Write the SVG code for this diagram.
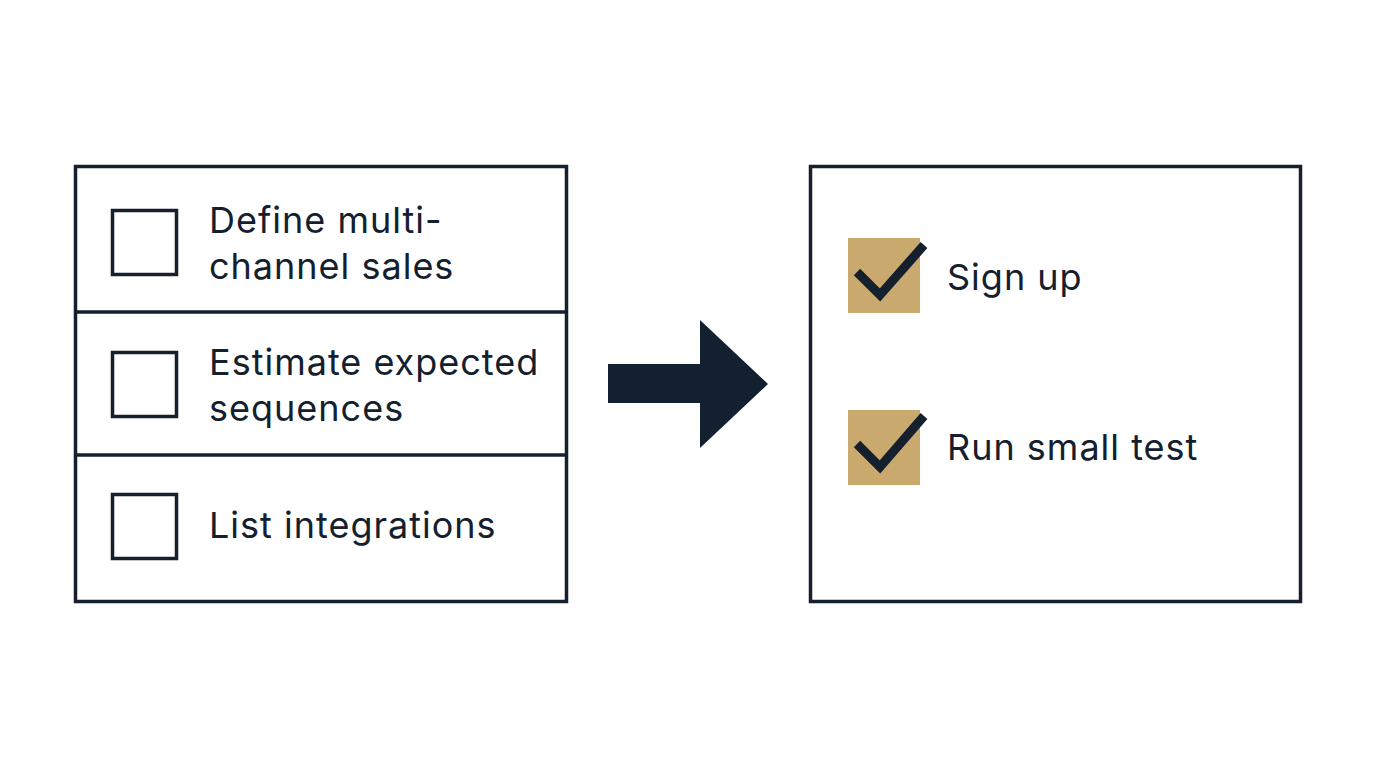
<svg xmlns="http://www.w3.org/2000/svg" width="1376" height="768" viewBox="0 0 1376 768">
<style>
.box{fill:#ffffff;stroke:#14202e;stroke-width:3.5}
.cb{fill:none;stroke:#14202e;stroke-width:3.5}
.cbd{fill:#c9a96e}
.tick{fill:none;stroke:#14202e;stroke-width:9;stroke-linecap:butt;stroke-linejoin:miter}
.t{font-family:Inter,"Noto Sans","Liberation Sans",sans-serif;font-size:36px;letter-spacing:1px;fill:#14202e}
</style>
<rect width="1376" height="768" fill="#ffffff"/>
<g id="todo-list">
<rect class="box" x="75.5" y="166.5" width="491" height="435"/>
<line class="cb" x1="75" y1="312" x2="566" y2="312"/>
<line class="cb" x1="75" y1="455" x2="566" y2="455"/>
</g>
<g id="item-define">
<rect class="cb" x="112.5" y="210.5" width="64" height="64"/>
<text class="t" x="209" y="233">Define multi-</text>
<text class="t" x="209" y="279">channel sales</text>
</g>
<g id="item-estimate">
<rect class="cb" x="112.5" y="352.5" width="64" height="64"/>
<text class="t" x="209" y="375">Estimate expected</text>
<text class="t" x="209" y="421">sequences</text>
</g>
<g id="item-list">
<rect class="cb" x="112.5" y="494.5" width="64" height="64"/>
<text class="t" x="209" y="538">List integrations</text>
</g>
<g id="connectors">
<polygon fill="#13202f" points="608,364 700,364 700,320 768,384 700,448 700,403 608,403"/>
</g>
<g id="done-list">
<rect class="box" x="810.5" y="166.5" width="490" height="435"/>
</g>
<g id="item-signup">
<rect class="cbd" x="848" y="238" width="72" height="75"/>
<polyline class="tick" points="857,272 880,295 924,245"/>
<text class="t" x="947" y="290">Sign up</text>
</g>
<g id="item-test">
<rect class="cbd" x="848" y="410" width="72" height="75"/>
<polyline class="tick" points="857,444 880,467 924,416"/>
<text class="t" x="947" y="460">Run small test</text>
</g>
</svg>
